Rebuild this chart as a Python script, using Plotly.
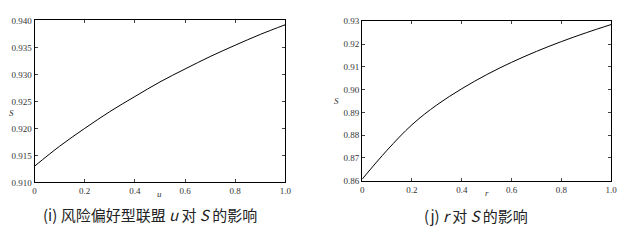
import plotly.graph_objects as go

u_vals = [0, 0.1, 0.2, 0.3, 0.4, 0.5, 0.6, 0.7, 0.8, 0.9, 1.0]
S_u = [0.9130, 0.9167, 0.9200, 0.9231, 0.9259, 0.9286, 0.9310, 0.9333, 0.9354, 0.9374, 0.9392]
r_vals = [0, 0.1, 0.2, 0.3, 0.4, 0.5, 0.6, 0.7, 0.8, 0.9, 1.0]
S_r = [0.8607, 0.8734, 0.8846, 0.8933, 0.9004, 0.9066, 0.9120, 0.9168, 0.9211, 0.9250, 0.9286]

x_ticks = [0, 0.2, 0.4, 0.6, 0.8, 1.0]
x_ticktext = ["0", "0.2", "0.4", "0.6", "0.8", "1.0"]
yl_ticks = [0.910, 0.915, 0.920, 0.925, 0.930, 0.935, 0.940]
yr_ticks = [0.86, 0.87, 0.88, 0.89, 0.90, 0.91, 0.92, 0.93]
captions = ["(i) 风险偏好型联盟 <i>u</i> 对 <i>S</i> 的影响", "(j) <i>r</i> 对 <i>S</i> 的影响"]

fig = go.Figure()
fig.add_trace(go.Scatter(x=u_vals, y=S_u, mode="lines", line=dict(color="black", width=1, shape="spline"),
                         xaxis="x", yaxis="y", showlegend=False))
fig.add_trace(go.Scatter(x=r_vals, y=S_r, mode="lines", line=dict(color="black", width=1, shape="spline"),
                         xaxis="x2", yaxis="y2", showlegend=False))

serif = "Liberation Serif, DejaVu Serif, serif"
tickfont = dict(family=serif, size=9, color="#333")
common_x = dict(range=[0, 1], tickvals=x_ticks, ticktext=x_ticktext, ticks="inside", ticklen=3,
                showline=True, linecolor="black", linewidth=1, mirror="ticks", showgrid=False,
                zeroline=False, tickfont=tickfont)
common_y = dict(ticks="inside", ticklen=3, showline=True, linecolor="black", linewidth=1,
                mirror="ticks", showgrid=False, zeroline=False, tickfont=tickfont)

fig.update_layout(
    width=638, height=243, margin=dict(l=0, r=0, t=0, b=0),
    paper_bgcolor="white", plot_bgcolor="white",
    xaxis=dict(domain=[0.0517, 0.4498], anchor="y", **common_x),
    yaxis=dict(domain=[0.2387, 0.934], anchor="x", range=[0.910, 0.940], tickvals=yl_ticks,
               tickformat=".3f", **common_y),
    xaxis2=dict(domain=[0.5717, 0.967], anchor="y2", **common_x),
    yaxis2=dict(domain=[0.2457, 0.9300], anchor="x2", range=[0.86, 0.93], tickvals=yr_ticks,
                tickformat=".2f", **common_y),
)

lab = dict(family=serif, size=9, color="#333")
for x, y, t in [(10, 113, "<i>S</i>"), (160, 197, "<i>u</i>"), (339, 100, "<i>S</i>"), (491, 196, "<i>r</i>")]:
    fig.add_annotation(x=x / 638, y=1 - y / 243, xref="paper", yref="paper", text=t,
                       showarrow=False, font=lab, xanchor="center", yanchor="middle")

capfont = dict(family="Noto Sans CJK SC", size=15, color="#222")
fig.add_annotation(x=150 / 638, y=1 - 219 / 243, xref="paper", yref="paper", text=captions[0],
                   showarrow=False, font=capfont, xanchor="center", yanchor="middle")
fig.add_annotation(x=480 / 638, y=1 - 220 / 243, xref="paper", yref="paper", text=captions[1],
                   showarrow=False, font=capfont, xanchor="center", yanchor="middle")

fig.write_html("out.html")
